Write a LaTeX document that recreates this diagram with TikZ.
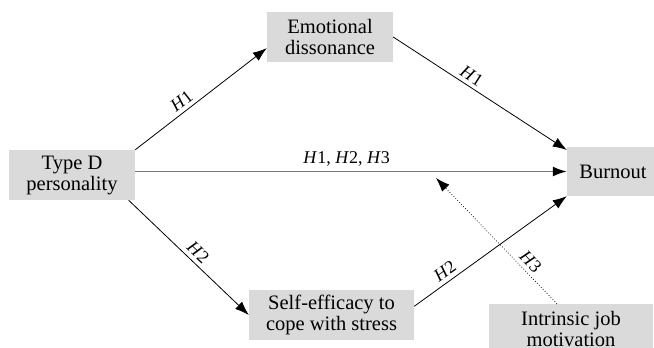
\documentclass[tikz,border=0pt]{standalone}
\usepackage{fontspec}
\setmainfont{Liberation Serif}
\usetikzlibrary{arrows.meta}
\definecolor{boxgray}{RGB}{218,218,218}
\definecolor{linegray}{RGB}{120,120,120}
\begin{document}
\begin{tikzpicture}[x=1pt,y=-1pt,
  box/.style={fill=boxgray, draw=none, align=center, font=\fontsize{20.5}{21}\selectfont, inner sep=0pt, minimum height=50pt},
  arr/.style={-{Latex[length=14pt,width=10pt,color=black]}, line width=0.8pt},
  lab/.style={font=\fontsize{18}{18}\selectfont, sloped, above, inner sep=4pt}]
\useasboundingbox (0,0) rectangle (654,348);
\clip (0,0) rectangle (654,348);
\fill[white] (0,0) rectangle (654,348);
\node[box, minimum width=126pt] (emo) at (330,37) {Emotional\\dissonance};
\node[box, minimum width=126pt] (td) at (72,175) {Type D\\personality};
\node[box, minimum width=92pt, minimum height=49pt] (bo) at (613,171.5) {Burnout};
\node[box, minimum width=165pt] (se) at (331.5,315) {Self-efficacy to\\cope with stress};
\node[box, minimum width=164pt] (im) at (571,329) {Intrinsic job\\motivation};
\coordinate (mod) at (436,178);
\draw[arr] (td.north east) -- node[lab, pos=0.4] {\textit{H}1} (emo.190);
\draw[arr] (emo.east) -- node[lab, pos=0.42] {\textit{H}1} (bo.155);
\draw[arr, draw=linegray, line width=1.6pt] (td.east |- bo.west) -- node[lab, pos=0.49] {\textit{H}1, \textit{H}2, \textit{H}3} (bo.west);
\draw[arr] (td.-24) -- node[lab, pos=0.52] {\textit{H}2} (se.west);
\draw[arr] (se.6) -- node[lab, pos=0.24] {\textit{H}2} (bo.south west);
\draw[arr, dotted, line width=0.7pt] (im.119) -- node[lab, pos=0.28] {\textit{H}3} (mod);
\end{tikzpicture}
\end{document}
